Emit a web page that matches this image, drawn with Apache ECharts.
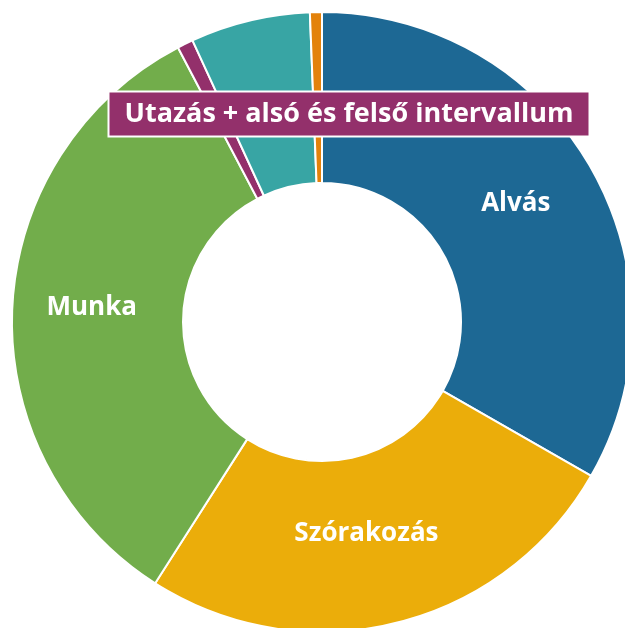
<!DOCTYPE html>
<html>
<head>
<meta charset="utf-8">
<script src="https://cdn.jsdelivr.net/npm/echarts@6/dist/echarts.min.js"></script>
<style>
  html, body { margin: 0; padding: 0; background: #fff; }
  #chart { width: 625px; height: 628px; }
</style>
</head>
<body>
<div id="chart"></div>
<script>
// hours of a day, clockwise from 12 o'clock
var categories = ['Alvás', 'Szórakozás', 'Munka', 'Utazás + alsó és felső intervallum', 'Háztartás', 'Egyéb'];
var hours = [8, 6.2, 8, 0.2, 1.5, 0.15];
var colors = ['#1d6894', '#ebad0a', '#72ad4b', '#93306b', '#38a5a4', '#e3820b'];
var showLabel = [true, true, true, true, false, false];

// small nudges so the inside labels sit where the original put them
var labelShift = [[-3, -4], [-10, -9], [-3, -5], [0, 0], [0, 0], [0, 0]];

var chart = echarts.init(document.getElementById('chart'), null, { renderer: 'canvas' });

var data = categories.map(function (name, i) {
  var item = {
    name: name,
    value: hours[i],
    itemStyle: { color: colors[i] },
    label: { show: showLabel[i] }
  };
  if (i === 3) {
    // the small slice gets a boxed label above the ring
    item.label = {
      show: true,
      fontSize: 27,
      backgroundColor: '#93306b',
      borderColor: '#fff',
      borderWidth: 2,
      padding: [8, 15, 8, 15]
    };
  }
  return item;
});

var option = {
  animation: false,
  series: [{
    type: 'pie',
    center: [322, 322],
    radius: [139, 310],
    startAngle: 90,
    clockwise: true,
    avoidLabelOverlap: false,
    itemStyle: {
      borderColor: '#fff',
      borderWidth: 2
    },
    label: {
      position: 'inside',
      color: '#fff',
      fontFamily: 'Open Sans',
      fontWeight: 'bold',
      fontSize: 26,
      formatter: '{b}'
    },
    labelLine: { show: false },
    labelLayout: function (params) {
      var i = params.dataIndex;
      if (i === 3) {
        return { x: 349, y: 114, align: 'center', verticalAlign: 'middle' };
      }
      return { dx: labelShift[i][0], dy: labelShift[i][1] };
    },
    data: data
  }]
};

chart.setOption(option);
</script>
</body>
</html>
